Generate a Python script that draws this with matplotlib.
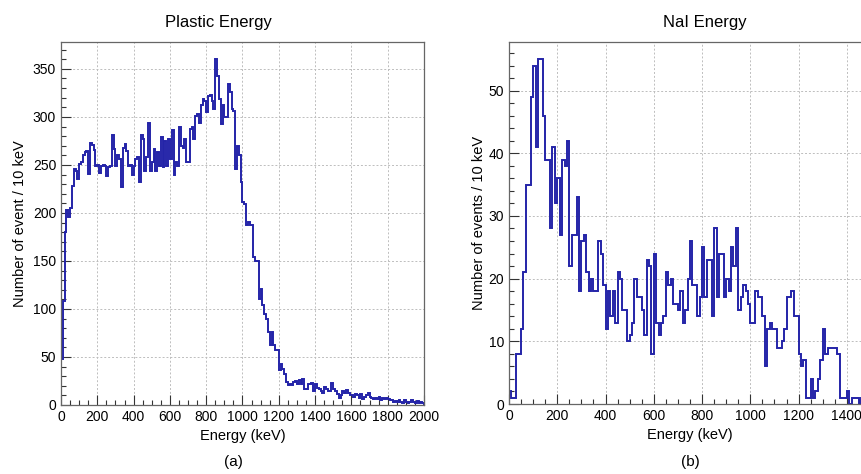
import matplotlib
matplotlib.use("Agg")
import matplotlib.pyplot as plt
import numpy as np
from matplotlib.ticker import MultipleLocator

plt.rcParams['font.family'] = ['Liberation Sans', 'DejaVu Sans']

"""
    Dados lidos dos histogramas (bins de 10 keV)
"""
bin_width_kev = 10

# Plastic: 0 - 2000 keV, 200 bins
plastic_counts = [
    48, 108, 180, 203, 196, 205, 228, 246, 244, 235,
    251, 253, 260, 263, 265, 241, 273, 271, 266, 249,
    250, 242, 249, 250, 249, 238, 248, 249, 281, 267,
    249, 260, 256, 227, 268, 272, 265, 249, 250, 239,
    249, 256, 258, 232, 281, 277, 244, 258, 294, 244,
    253, 267, 244, 263, 249, 279, 248, 275, 249, 277,
    256, 286, 239, 253, 249, 290, 270, 268, 277, 253,
    253, 287, 289, 277, 301, 303, 294, 312, 319, 317,
    305, 322, 323, 317, 308, 360, 343, 319, 293, 312,
    300, 300, 334, 326, 308, 306, 246, 270, 260, 232,
    211, 209, 187, 191, 187, 187, 154, 150, 150, 110,
    121, 104, 95, 90, 76, 62, 76, 63, 57, 57,
    36, 43, 38, 32, 24, 21, 22, 21, 24, 25,
    22, 26, 22, 27, 17, 17, 22, 22, 23, 15,
    22, 18, 17, 15, 13, 19, 17, 15, 15, 23,
    17, 15, 11, 7, 10, 15, 13, 16, 13, 10,
    10, 8, 11, 10, 7, 11, 6, 8, 10, 13,
    8, 7, 6, 7, 6, 8, 5, 7, 6, 7,
    6, 5, 5, 3, 4, 3, 5, 3, 2, 5,
    3, 2, 3, 5, 3, 2, 4, 2, 3, 2,
]

# NaI: 0 - 1500 keV, 150 bins
nai_counts = [
    2, 1, 1, 8, 8, 12, 21, 35, 35, 49,
    54, 41, 55, 55, 46, 39, 39, 28, 41, 32,
    36, 27, 39, 38, 42, 22, 27, 27, 33, 18,
    26, 27, 21, 18, 20, 18, 18, 26, 24, 19,
    12, 18, 14, 18, 13, 21, 20, 15, 15, 10,
    11, 13, 20, 17, 17, 15, 11, 23, 22, 8,
    24, 13, 11, 13, 14, 21, 19, 20, 16, 16,
    15, 18, 13, 15, 20, 26, 19, 19, 14, 17,
    25, 17, 23, 23, 14, 28, 17, 24, 24, 17,
    20, 18, 25, 22, 28, 15, 17, 19, 18, 16,
    13, 13, 18, 17, 17, 14, 6, 12, 13, 12,
    12, 9, 9, 10, 12, 17, 17, 18, 14, 14,
    8, 6, 7, 1, 1, 4, 1, 2, 4, 7,
    12, 8, 9, 9, 9, 9, 8, 1, 1, 1,
    2, 0, 1, 1, 1, 0, 1, 1, 0, 0,
]

plastic_edges = np.arange(len(plastic_counts) + 1) * bin_width_kev
nai_edges = np.arange(len(nai_counts) + 1) * bin_width_kev

line_color = '#2424a8'
W, H = 861, 474


def estilo_root(ax, xmaj, xmin, ymaj, ymin):
    # grade tracejada e ticks para dentro, como no ROOT
    ax.grid(True, which='major', color='#bdbdbd', linestyle=(0, (2, 2)), linewidth=0.7)
    ax.set_axisbelow(True)
    ax.xaxis.set_major_locator(MultipleLocator(xmaj))
    ax.xaxis.set_minor_locator(MultipleLocator(xmin))
    ax.yaxis.set_major_locator(MultipleLocator(ymaj))
    ax.yaxis.set_minor_locator(MultipleLocator(ymin))
    ax.tick_params(which='both', direction='in', top=False, right=False,
                   colors='#333333', labelcolor='black', labelsize=10)
    ax.tick_params(which='major', length=7, width=0.8)
    ax.tick_params(which='minor', length=3.5, width=0.8)
    for s in ax.spines.values():
        s.set_color('#666666')
        s.set_linewidth(0.9)


fig = plt.figure(figsize=(W / 100, H / 100), dpi=100)

"""
    Plastic Energy
"""
ax1 = fig.add_axes([61 / W, 1 - 405 / H, 363 / W, 363 / H])
ax1.stairs(plastic_counts, plastic_edges, color=line_color, linewidth=1.4)
ax1.set_xlim(0, 2000)
ax1.set_ylim(0, max(plastic_counts) * 1.05)
estilo_root(ax1, 200, 50, 50, 10)
ax1.set_xlabel("Energy (keV)", fontsize=10.5, labelpad=4)
ax1.set_ylabel("Number of event / 10 keV", fontsize=10.5, labelpad=4)
fig.text(218 / W, 1 - 22 / H, "Plastic Energy", ha='center', va='center', fontsize=12)
fig.text(233 / W, 1 - 462 / H, "(a)", ha='center', va='center', fontsize=11)

"""
    NaI Energy
"""
ax2 = fig.add_axes([509 / W, 1 - 404 / H, 362 / W, 362 / H])
ax2.stairs(nai_counts, nai_edges, color=line_color, linewidth=1.4)
ax2.set_xlim(0, 1500)
ax2.set_ylim(0, max(nai_counts) * 1.05)
estilo_root(ax2, 200, 50, 10, 2)
ax2.set_xlabel("Energy (keV)", fontsize=10.5, labelpad=4)
ax2.set_ylabel("Number of events / 10 keV", fontsize=10.5, labelpad=2)
fig.text(705 / W, 1 - 22 / H, "NaI Energy", ha='center', va='center', fontsize=12)
fig.text(690 / W, 1 - 462 / H, "(b)", ha='center', va='center', fontsize=11)

plt.savefig('out.png', dpi=100)
plt.close()
